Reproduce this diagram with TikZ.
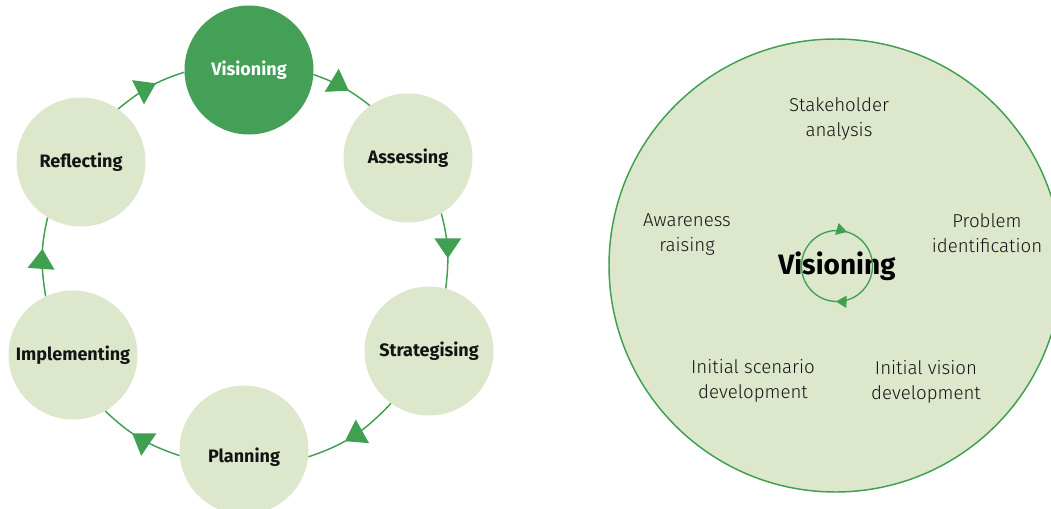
\documentclass[tikz,border=0pt]{standalone}
\usepackage{fontspec}
\setmainfont{Fira Sans}
\newfontfamily\lightfont{Fira Sans Light}
\usetikzlibrary{arrows.meta,decorations.markings}
\definecolor{dkgreen}{RGB}{67,160,86}
\definecolor{ltgreen}{RGB}{220,231,204}
\definecolor{linegreen}{RGB}{62,160,80}
\definecolor{txt}{RGB}{20,20,20}
\begin{document}
\begin{tikzpicture}[x=0.75pt,y=0.75pt,
  stage/.style={circle,fill=ltgreen,minimum size=96.75pt,inner sep=0pt,
    font=\bfseries\fontsize{13.5}{15}\selectfont,text=txt},
  cyc/.style={color=linegreen,line width=1.1pt,postaction={decorate},
    decoration={markings,mark=at position 0.6 with {\arrow{Triangle[length=15pt,width=20pt]}}}},
  sub/.style={font=\lightfont\fontsize{14}{18.75}\selectfont,align=center,text=txt},
  smallloop/.style={color=linegreen,line width=1pt,postaction={decorate},
    decoration={markings,
      mark=at position 0.204 with {\arrowreversed{Triangle[length=8pt,width=9pt]}},
      mark=at position 0.745 with {\arrowreversed{Triangle[length=8pt,width=9pt]}}}}
]
\path[use as bounding box] (0,0) rectangle (1051,-508);
\clip (0,0) rectangle (1051,-508);
% left cycle
\node[stage,fill=dkgreen,text=white] (vis) at (249,-70) {Visioning};
\node[stage] (ass) at (408,-158) {Assessing};
\node[stage] (str) at (429,-351) {Strategising};
\node[stage] (pla) at (244,-450) {\smash{\raisebox{-9pt}{Planning}}};
\node[stage] (imp) at (73,-355) {Implementing};
\node[stage] (ref) at (81,-162) {Reflecting};
\draw[cyc] (vis.-4.4) to[out=-19.8,in=141.9] (ass.126.4);
\draw[cyc] (ass.-59.8) to[out=-75.3,in=83.25] (str.75.1);
\draw[cyc] (str.234.8) to[out=-133.4,in=18.2] (pla.-6.1);
\draw[cyc] (pla.185.5) to[out=161.2,in=-43.8] (imp.-60);
\draw[cyc] (imp.115.2) to[out=99,in=256.5] (ref.239.9);
\draw[cyc] (ref.55.9) to[out=39.3,in=197.4] (vis.182);
% right detail
\node[circle,draw=linegreen,fill=ltgreen,line width=1.1pt,minimum size=339.75pt,inner sep=0pt] (big) at (835.5,-265.5) {};
\node[sub] (sh) at (839,-119) {Stakeholder\\analysis};
\node[sub] (aw) at (687,-235) {Awareness\\raising};
\node[sub] (pr) at (987,-233) {Problem\\identification};
\node[sub] (is) at (753,-381) {Initial scenario\\development};
\node[sub] (iv) at (926,-382) {Initial vision\\development};
\node[font=\bfseries\fontsize{21}{25}\selectfont,text=black] (vt) at (837,-266) {Visioning};
\draw[smallloop] (vt.center) circle[radius=35.5];
\end{tikzpicture}
\end{document}
